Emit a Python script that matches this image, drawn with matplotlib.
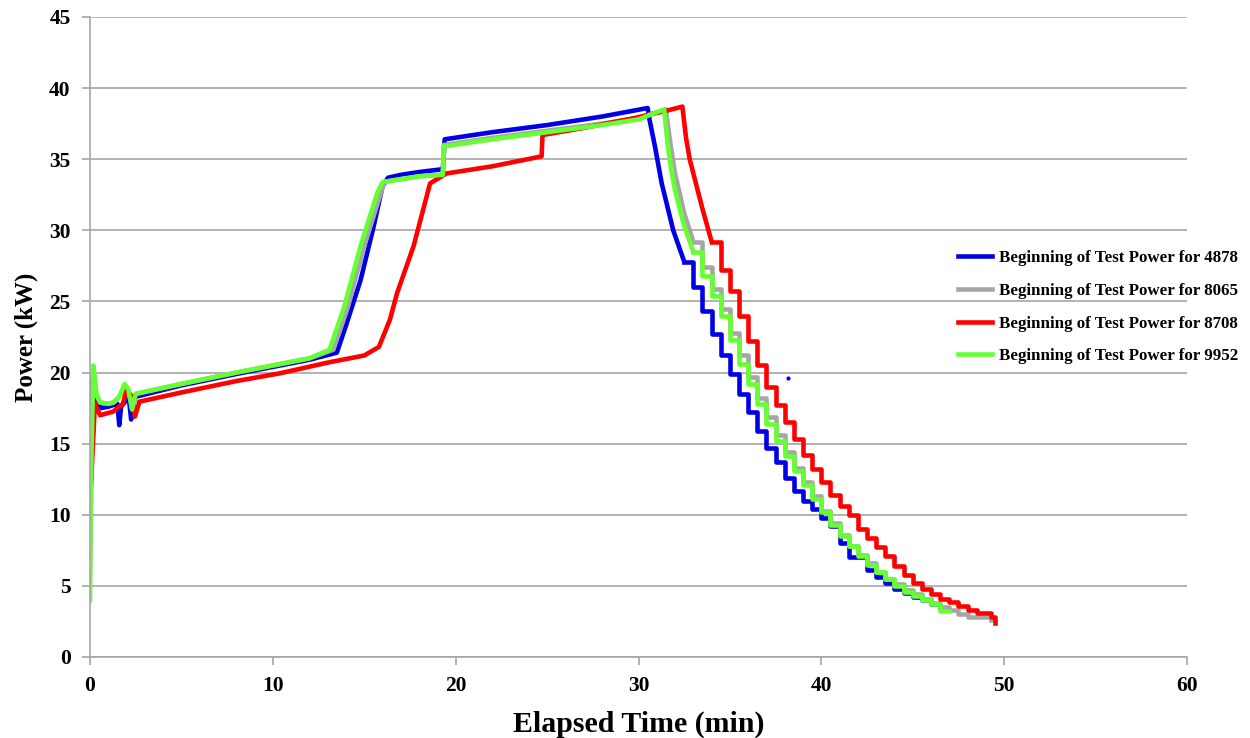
import matplotlib
matplotlib.use("Agg")
import matplotlib.pyplot as plt

plt.rcParams['font.family'] = ['Liberation Serif', 'DejaVu Serif']
plt.rcParams['font.weight'] = 'bold'

labels = ["Beginning of Test Power for 4878", "Beginning of Test Power for 8065",
          "Beginning of Test Power for 8708", "Beginning of Test Power for 9952"]
colors = ["#0000e6", "#a6a6a6", "#ff0000", "#66ff33"]

# ---- warm-up, plateaus and steep start of cool-down (time in min, power in kW) ----
blue_rise_t = [0, 0.05, 0.15, 0.35, 0.6, 1.0, 1.5, 1.6, 1.7, 1.9, 2.1, 2.25, 2.35, 2.5, 5, 8, 10, 12, 13.5,
               14.0, 14.8, 15.5, 16.0, 16.3, 17, 18, 19.3, 19.4, 22, 25, 28, 30.5,
               30.6, 30.9, 31.27, 31.9, 32.5]
blue_rise_p = [8, 15, 19.5, 18.0, 17.5, 17.6, 17.8, 16.3, 17.6, 17.9, 18.5, 16.7, 17.8, 18.3, 19.1, 19.9, 20.4,
               20.9, 21.4, 23.3, 26.5, 30.2, 33.1, 33.7, 33.9, 34.1, 34.3, 36.4, 36.9, 37.4, 38.0, 38.6,
               37.8, 35.9, 33.3, 30.0, 27.8]

gray_rise_t = [0, 0.05, 0.18, 0.35, 0.55, 1.0, 1.3, 1.6, 1.9, 2.1, 2.3, 2.5, 5, 8, 10, 12, 13.3, 14.1, 15.0,
               15.9, 16.1, 17, 18, 19.3, 19.35, 22, 25, 28, 30, 31.5,
               31.7, 32.0, 32.5, 33.0]
gray_rise_p = [6, 12, 20.3, 18.4, 17.9, 17.8, 17.9, 18.3, 19.1, 18.8, 17.5, 18.5, 19.2, 20.0, 20.5, 21.0, 21.6,
               24.6, 28.9, 32.6, 33.4, 33.6, 33.8, 33.9, 36.0, 36.5, 37.0, 37.5, 37.9, 38.5,
               36.5, 34.0, 31.2, 29.2]

red_rise_t = [0, 0.05, 0.27, 0.55, 1.26, 1.8, 2.0, 2.3, 2.46, 2.7, 5, 8, 10.4, 13, 15.0, 15.8, 16.4, 16.8,
              17.7, 18.6, 19.5, 22, 24.7, 24.75, 27, 29.8, 31.5, 32.4,
              32.6, 32.8, 33.0, 33.5, 34.0]
red_rise_p = [10, 12, 17.85, 17.0, 17.25, 17.8, 18.8, 18.3, 16.9, 17.95, 18.6, 19.4, 19.95, 20.7, 21.2, 21.8,
              23.7, 25.6, 28.9, 33.3, 34.0, 34.5, 35.2, 36.7, 37.2, 37.9, 38.4, 38.7,
              36.5, 35.0, 34.0, 31.5, 29.2]

green_rise_t = [0, 0.05, 0.18, 0.35, 0.55, 1.0, 1.3, 1.6, 1.9, 2.1, 2.3, 2.5, 5, 8, 10, 12, 13.1, 13.9, 14.8,
                15.7, 16.0, 17, 18, 19.3, 19.35, 22, 25, 28, 30, 31.4,
                31.6, 31.8, 32.0, 32.5, 33.0]
green_rise_p = [4, 12, 20.5, 18.5, 17.9, 17.8, 17.9, 18.3, 19.2, 18.8, 17.4, 18.5, 19.2, 20.0, 20.5, 21.0, 21.6,
                24.6, 28.9, 32.6, 33.4, 33.6, 33.8, 33.9, 35.9, 36.4, 36.9, 37.4, 37.8, 38.5,
                36.0, 34.2, 32.8, 30.3, 28.5]

# ---- stepped tail of cool-down ----
blue_fall_t = [32.5, 33.0, 33.5, 34.0, 34.5, 35.0, 35.5, 36.0, 36.5, 37.0,
               37.5, 38.0, 38.5, 39.0, 39.5, 40.0, 40.5, 41.0, 41.5, 42.0, 42.5, 43.0, 43.5, 44.0, 44.5, 45.0,
               45.5, 46.0, 46.5]
blue_fall_p = [27.8, 26.0, 24.3, 22.7, 21.2, 19.9, 18.5, 17.2, 15.9, 14.7,
               13.7, 12.6, 11.7, 11.0, 10.4, 9.8, 9.2, 8.0, 7.0, 7.0, 6.1, 5.6, 5.2, 4.8, 4.5, 4.2,
               4.0, 3.7, 3.5]

gray_fall_t = [33.0, 33.5, 34.0, 34.5, 35.0, 35.5, 36.0, 36.5, 37.0, 37.5, 38.0, 38.5,
               39.0, 39.5, 40.0, 40.5, 41.0, 41.5, 42.0, 42.5, 43.0, 43.5, 44.0, 44.5, 45.0, 45.5, 46.0, 46.5,
               47.0, 47.5, 48.0, 48.5, 49.0, 49.3]
gray_fall_p = [29.2, 27.4, 25.9, 24.5, 22.8, 21.2, 19.7, 18.2, 16.9, 15.6, 14.4, 13.3,
               12.3, 11.3, 10.3, 9.4, 8.6, 7.8, 7.2, 6.6, 6.0, 5.5, 5.1, 4.7, 4.4, 4.1, 3.8, 3.5,
               3.3, 3.0, 2.8, 2.8, 2.8, 2.6]

red_fall_t = [34.0, 34.5, 35.0, 35.5, 36.0, 36.5, 37.0, 37.5, 38.0, 38.5, 39.0,
              39.5, 40.0, 40.5, 41.0, 41.5, 42.0, 42.5, 43.0, 43.5, 44.0, 44.5, 45.0, 45.5, 46.0, 46.5, 47.0,
              47.5, 48.0, 48.5, 49.0, 49.3, 49.5]
red_fall_p = [29.2, 27.2, 25.7, 24.0, 22.2, 20.5, 19.0, 17.7, 16.5, 15.3, 14.2,
              13.2, 12.3, 11.4, 10.6, 10.0, 9.0, 8.4, 7.7, 7.1, 6.4, 5.8, 5.2, 4.8, 4.4, 4.1, 3.9,
              3.6, 3.3, 3.1, 3.1, 2.8, 2.4]

green_fall_t = [33.0, 33.5, 34.0, 34.5, 35.0, 35.5, 36.0, 36.5, 37.0, 37.5, 38.0,
                38.5, 39.0, 39.5, 40.0, 40.5, 41.0, 41.5, 42.0, 42.5, 43.0, 43.5, 44.0, 44.5, 45.0, 45.5, 46.0,
                46.5, 47.0]
green_fall_p = [28.5, 26.8, 25.4, 24.0, 22.3, 20.6, 19.2, 17.8, 16.4, 15.2, 14.1,
                13.1, 12.1, 11.1, 10.2, 9.3, 8.5, 7.8, 7.1, 6.5, 6.0, 5.5, 5.0, 4.6, 4.3, 4.0, 3.7,
                3.2, 3.2]

stray_t = [38.2]
stray_p = [19.6]

rise = [(blue_rise_t, blue_rise_p), (gray_rise_t, gray_rise_p), (red_rise_t, red_rise_p), (green_rise_t, green_rise_p)]
fall = [(blue_fall_t, blue_fall_p), (gray_fall_t, gray_fall_p), (red_fall_t, red_fall_p), (green_fall_t, green_fall_p)]

fig = plt.figure(figsize=(12.5, 7.38), dpi=100)
ax = fig.add_axes([90/1250, 81/738, 1097/1250, 640/738])

handles = []
for (rt, rp), (ft, fp), c, lab in zip(rise, fall, colors, labels):
    h, = ax.plot(rt, rp, color=c, lw=3.3, label=lab, solid_joinstyle='round')
    ax.plot(ft, fp, color=c, lw=3.3, drawstyle='steps-post', solid_joinstyle='round')
    handles.append(h)
ax.plot(stray_t, stray_p, 'o', color=colors[0], ms=2)

ax.set_xlim(0, 60)
ax.set_ylim(0, 45)
ax.set_xticks(range(0, 61, 10))
ax.set_yticks(range(0, 46, 5))
ax.yaxis.grid(True, color='#a6a6a6', lw=1.2)
ax.set_axisbelow(True)
for s in ['top', 'right']:
    ax.spines[s].set_visible(False)
for s in ['left', 'bottom']:
    ax.spines[s].set_color('#a6a6a6')
    ax.spines[s].set_linewidth(1.2)
ax.tick_params(axis='both', colors='#a6a6a6', labelcolor='black', labelsize=15.5, length=6, width=1.2)
ax.tick_params(axis='y', pad=8)
ax.tick_params(axis='x', pad=8)
for lbl in ax.get_xticklabels() + ax.get_yticklabels():
    lbl.set_fontweight('bold')
ax.set_xlabel('Elapsed Time (min)', fontsize=21.5, fontweight='bold', labelpad=10)
ax.set_ylabel('Power (kW)', fontsize=18, fontweight='bold', labelpad=8)

leg = fig.legend(handles=handles, labels=labels, loc='upper left', bbox_to_anchor=(955/1250, 1 - 247/738),
                 frameon=False, borderaxespad=0, borderpad=0.2,
                 prop={'family': 'Liberation Serif', 'weight': 'bold', 'size': 12.2},
                 handlelength=2.0, labelspacing=0.98, handletextpad=0.4)
for l in leg.get_lines():
    l.set_linewidth(3.3)

fig.savefig('out.png', dpi=100)
